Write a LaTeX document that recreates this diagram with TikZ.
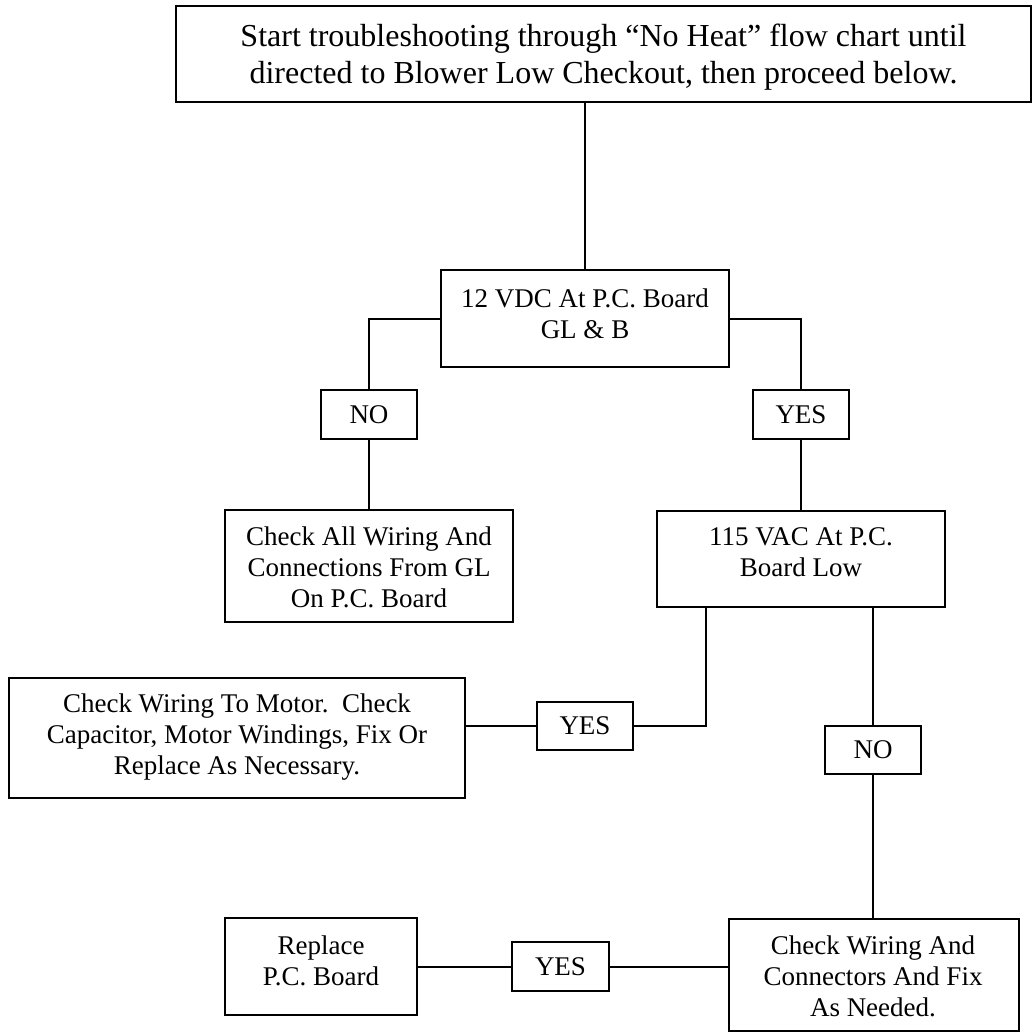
\documentclass[tikz,border=0pt]{standalone}
\usepackage{fontspec}
\setmainfont{Liberation Serif}
\begin{document}
\begin{tikzpicture}[x=1pt, y=-1pt,
  box/.style={draw, line width=2pt, inner sep=0pt, rectangle},
  txt/.style={align=center, inner sep=0pt, font=\fontsize{27}{31}\selectfont},
  bigtxt/.style={align=center, inner sep=0pt, font=\fontsize{32}{37}\selectfont},
  wire/.style={line width=2pt}]
\useasboundingbox (0,0) rectangle (1034,1036);

% boxes
\node[box, minimum width=855pt, minimum height=96pt]  (top)   at (603.5,54)  {};
\node[box, minimum width=288pt, minimum height=97pt]  (vdc)   at (585,318.5) {};
\node[box, minimum width=96pt,  minimum height=49pt]  (no1)   at (369,414.5) {};
\node[box, minimum width=96pt,  minimum height=49pt]  (yes1)  at (801,414.5) {};
\node[box, minimum width=288pt, minimum height=112pt] (wiring) at (369,566)  {};
\node[box, minimum width=288pt, minimum height=96pt]  (vac)   at (801,559)   {};
\node[box, minimum width=96pt,  minimum height=48pt]  (yes2)  at (585,726)   {};
\node[box, minimum width=456pt, minimum height=120pt] (motor) at (237,738)   {};
\node[box, minimum width=96pt,  minimum height=48pt]  (no2)   at (873,750)   {};
\node[box, minimum width=290pt, minimum height=112pt] (fix)   at (874,975)   {};
\node[box, minimum width=97pt,  minimum height=49pt]  (yes3)  at (560.5,966.5) {};
\node[box, minimum width=192pt, minimum height=97pt]  (board) at (321,966.5) {};

% texts
\node[bigtxt] at (603.5,57) {Start troubleshooting through “No Heat” flow chart until\\directed to Blower Low Checkout, then proceed below.};
\node[txt] at (585,313.5) {12 VDC At P.C. Board\\GL \& B};
\node[txt] at (no1) {NO};
\node[txt] at (yes1) {YES};
\node[txt] at (369,567) {Check All Wiring And\\Connections From GL\\On P.C. Board};
\node[txt] at (801,552.5) {115 VAC At P.C.\\Board Low};
\node[txt] at (yes2) {YES};
\node[txt] at (237,737) {Check Wiring To Motor.\ \ Check\\Capacitor, Motor Windings, Fix Or\\Replace As Necessary.};
\node[txt] at (no2) {NO};
\node[txt] at (873,976) {Check Wiring And\\Connectors And Fix\\As Needed.};
\node[txt] at (yes3) {YES};
\node[txt] at (321,961) {Replace\\P.C. Board};

% connectors
\coordinate (vacl) at (706,607);
\draw[wire] (vdc.north) -- (vdc.north |- top.south);
\draw[wire] (vdc.west) -| (no1.north);
\draw[wire] (no1.south) -- (wiring.north);
\draw[wire] (vdc.east) -| (yes1.north);
\draw[wire] (yes1.south) -- (vac.north);
\draw[wire] (vacl) |- (yes2.east);
\draw[wire] (yes2.west) -- (yes2.west -| motor.east);
\draw[wire] (vac.south -| no2.north) -- (no2.north);
\draw[wire] (no2.south) -- (no2.south |- fix.north);
\draw[wire] (yes3.east) -- (yes3.east -| fix.west);
\draw[wire] (yes3.west) -- (board.east);
\end{tikzpicture}
\end{document}
